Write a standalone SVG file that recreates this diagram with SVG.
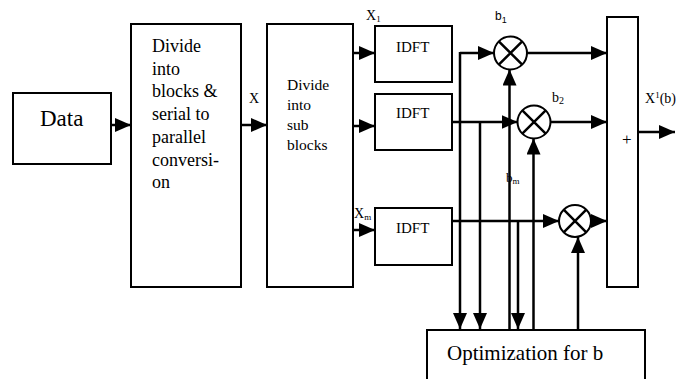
<svg xmlns="http://www.w3.org/2000/svg" width="691" height="379" viewBox="0 0 691 379">
<defs>
<marker id="ah" markerUnits="userSpaceOnUse" markerWidth="17" markerHeight="14" refX="16" refY="7" orient="auto">
<path d="M0,0 L16,7 L0,14 z" fill="#000"/>
</marker>
<style>
.box{fill:#fff;stroke:#000;stroke-width:2}
.ln{fill:none;stroke:#000;stroke-width:2.5}
.ar{fill:none;stroke:#000;stroke-width:2.5;marker-end:url(#ah)}
.t{font-family:"Liberation Serif","Times New Roman",serif;fill:#000}
.s{font-family:"Liberation Sans",Arial,sans-serif;fill:#000}
</style>
</defs>
<rect width="691" height="379" fill="#fff"/>
<g id="data"><rect class="box" x="13" y="93" width="98" height="71"/><text class="t" x="40" y="126" font-size="23">Data</text></g>
<g id="divide-blocks"><rect class="box" x="131" y="24" width="110" height="263"/>
<text class="t" font-size="18"><tspan x="152" y="52">Divide</tspan><tspan x="152" y="74.7">into</tspan><tspan x="152" y="97.4">blocks &amp;</tspan><tspan x="152" y="120.1">serial to</tspan><tspan x="152" y="142.8">parallel</tspan><tspan x="152" y="165.5">conversi-</tspan><tspan x="152" y="188.2">on</tspan></text></g>
<g id="divide-sub"><rect class="box" x="267" y="24" width="86" height="263"/>
<text class="t" font-size="15.5"><tspan x="287" y="90">Divide</tspan><tspan x="287" y="110">into</tspan><tspan x="287" y="130">sub</tspan><tspan x="287" y="149.5">blocks</tspan></text></g>
<g id="idft1"><rect class="box" x="375" y="26" width="77" height="56"/><text class="t" x="396" y="52" font-size="15">IDFT</text></g>
<g id="idft2"><rect class="box" x="375" y="94" width="77" height="56"/><text class="t" x="396" y="118" font-size="15">IDFT</text></g>
<g id="idft3"><rect class="box" x="375" y="208" width="77" height="57"/><text class="t" x="396" y="233" font-size="15">IDFT</text></g>
<g id="mult1"><circle class="box" cx="510.5" cy="53" r="16.5"/><path class="ln" d="M498.8,41.3 L522.2,64.7 M522.2,41.3 L498.8,64.7" stroke-width="2"/></g>
<g id="mult2"><circle class="box" cx="534" cy="122" r="16.5"/><path class="ln" d="M522.3,110.3 L545.7,133.7 M545.7,110.3 L522.3,133.7" stroke-width="2"/></g>
<g id="mult3"><circle class="box" cx="575" cy="221" r="16"/><path class="ln" d="M563.7,209.7 L586.3,232.3 M586.3,209.7 L563.7,232.3" stroke-width="2"/></g>
<g id="sum"><rect class="box" x="607" y="17" width="31" height="270"/><text class="t" x="622" y="145" font-size="17">+</text></g>
<g id="optim"><rect class="box" x="427" y="330" width="218" height="60"/><text class="t" x="447" y="360" font-size="21">Optimization for b</text></g>
<g id="connectors">
<line class="ar" x1="111" y1="125" x2="131" y2="125"/>
<line class="ar" x1="241" y1="125" x2="267" y2="125"/>
<line class="ar" x1="353" y1="53" x2="375" y2="53"/>
<line class="ar" x1="353" y1="126" x2="375" y2="126"/>
<line class="ar" x1="353" y1="230" x2="375" y2="230"/>
<line class="ar" x1="460" y1="53" x2="494" y2="53"/>
<line class="ar" x1="460" y1="52" x2="460" y2="329"/>
<line class="ar" x1="452" y1="122" x2="517.5" y2="122"/>
<line class="ar" x1="480" y1="122" x2="480" y2="329"/>
<line class="ar" x1="452" y1="221" x2="559" y2="221"/>
<line class="ar" x1="518" y1="221" x2="518" y2="329"/>
<line class="ar" x1="509.5" y1="330" x2="509.5" y2="69.5"/>
<line class="ar" x1="533.5" y1="330" x2="533.5" y2="138.5"/>
<line class="ar" x1="578" y1="330" x2="578" y2="237"/>
<line class="ar" x1="527" y1="53" x2="607" y2="53"/>
<line class="ar" x1="550.5" y1="122" x2="607" y2="122"/>
<line class="ar" x1="591" y1="221" x2="607" y2="221"/>
<line class="ar" x1="638" y1="132" x2="675" y2="132"/>
</g>
<g id="labels">
<text class="t" x="249" y="103" font-size="14">X</text>
<text class="t" x="366" y="20" font-size="14">X<tspan font-size="9" dy="2">1</tspan></text>
<text class="t" x="354" y="218" font-size="14">X<tspan font-size="9" dy="2">m</tspan></text>
<text class="s" x="495" y="20" font-size="12">b<tspan font-size="9" dy="3">1</tspan></text>
<text class="t" x="552" y="102" font-size="14">b<tspan font-size="10" dy="2">2</tspan></text>
<text class="t" x="506" y="182" font-size="13">b<tspan font-size="9" dy="2">m</tspan></text>
<text class="t" x="645" y="103" font-size="14">X<tspan font-size="9" dy="-5">1</tspan><tspan dy="5">(b)</tspan></text>
</g>
</svg>
